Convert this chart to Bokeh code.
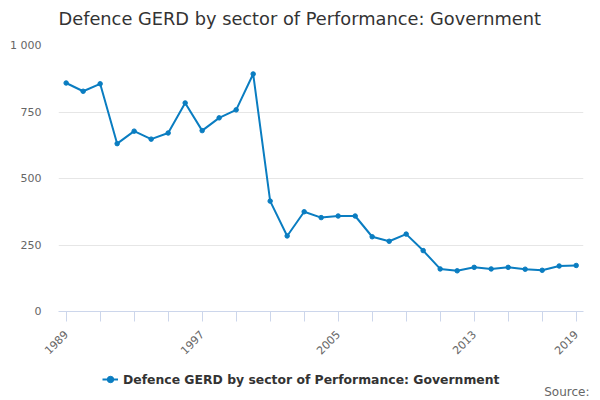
import math
from bokeh.plotting import figure
from bokeh.layouts import column
from bokeh.models import FixedTicker, Legend, LegendItem, Label, Range1d
from bokeh.embed import file_html
from bokeh.resources import INLINE

years = list(range(1989, 2020))
values = [859, 828, 856, 631, 678, 648, 671, 784, 680, 728, 758, 893,
          415, 284, 375, 353, 359, 359, 281, 264, 291, 229, 160, 153,
          166, 160, 166, 159, 155, 171, 173]
y_ticks = [0, 250, 500, 750, 1000]
y_tick_labels = {1000: "1 000"}
x_tick_years = list(range(1989, 2020, 2))
x_label_years = [1989, 1997, 2005, 2013, 2019]
series_name = "Defence GERD by sector of Performance: Government"
title_text = "Defence GERD by sector of Performance: Government"
source_text = "Source:"

FONT = "DejaVu Sans"
LINE = "#0a7dc1"


def blank_strip(height):
    s = figure(frame_width=542, frame_height=height, output_backend="svg", toolbar_location=None,
               x_range=Range1d(58, 600), y_range=Range1d(0, height),
               min_border_left=58, min_border_right=0, min_border_top=0, min_border_bottom=0,
               x_axis_type=None, y_axis_type=None)
    s.outline_line_color = None
    s.xgrid.grid_line_color = None
    s.ygrid.grid_line_color = None
    s.border_fill_color = "white"
    s.background_fill_color = "white"
    return s


# header strip with the chart title
H1 = 37
h = blank_strip(H1)
h.add_layout(Label(x=58, y=19, text=title_text, text_font=FONT, text_font_size="17.8px",
                   text_color="#333333", text_baseline="middle", text_align="left"))

# main chart
p = figure(title=None, frame_width=525, frame_height=266, output_backend="svg", toolbar_location=None,
           x_range=Range1d(1988.55, 2019.43), y_range=Range1d(0, 1000),
           min_border_left=58, min_border_right=17, min_border_top=8, min_border_bottom=43)
p.outline_line_color = None
p.background_fill_color = "white"
p.border_fill_color = "white"

ln = p.line(years, values, line_color=LINE, line_width=2)
sc = p.scatter(years, values, size=4.5, fill_color=LINE, line_color=LINE)

p.xaxis.ticker = FixedTicker(ticks=x_tick_years)
p.xaxis.major_label_overrides = {y: (str(y) if y in x_label_years else "") for y in x_tick_years}
p.xaxis.major_label_orientation = math.pi / 4
p.xaxis.axis_line_color = "#ccd6eb"
p.xaxis.major_tick_line_color = "#ccd6eb"
p.xaxis.major_tick_out = 10
p.xaxis.major_tick_in = 0
p.xaxis.minor_tick_line_color = None
p.xaxis.major_label_text_font = FONT
p.xaxis.major_label_text_font_size = "11px"
p.xaxis.major_label_text_color = "#666666"
p.xaxis.major_label_standoff = 11

p.yaxis.ticker = FixedTicker(ticks=y_ticks)
p.yaxis.major_label_overrides = y_tick_labels
p.yaxis.axis_line_color = None
p.yaxis.major_tick_line_color = None
p.yaxis.major_tick_out = 0
p.yaxis.major_tick_in = 0
p.yaxis.minor_tick_line_color = None
p.yaxis.major_label_text_font = FONT
p.yaxis.major_label_text_font_size = "11px"
p.yaxis.major_label_text_color = "#666666"
p.yaxis.major_label_standoff = 17

p.xgrid.grid_line_color = None
p.ygrid.grid_line_color = "#e6e6e6"
p.ygrid.ticker = FixedTicker(ticks=y_ticks)

# footer strip holding the legend and the source note
H2 = 46
f = blank_strip(H2)
# drawn far outside the footer's ranges: only its legend glyph is visible
fl = f.line(years, values, line_color=LINE, line_width=2)
fs = f.scatter(years, values, size=4.5, fill_color=LINE, line_color=LINE)

legend = Legend(items=[LegendItem(label=series_name, renderers=[fl, fs])],
                orientation="horizontal", location=(44, 18),
                label_text_font=FONT, label_text_font_size="12.4px",
                label_text_font_style="bold", label_text_color="#333333",
                border_line_color=None, background_fill_alpha=0,
                glyph_width=16, glyph_height=18, label_height=18,
                label_standoff=5, padding=0, margin=0)
f.add_layout(legend)

f.add_layout(Label(x=589, y=15, text=source_text, text_font=FONT, text_font_size="12px",
                   text_color="#666666", text_baseline="middle", text_align="right"))

layout = column(h, p, f, spacing=0)
open("out.html", "w").write(file_html(layout, INLINE))
